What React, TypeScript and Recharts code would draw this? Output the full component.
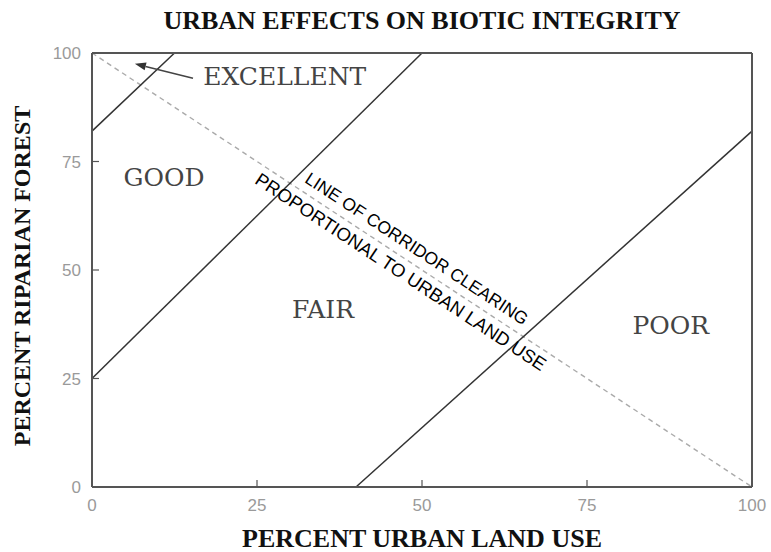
import React from 'react';
import { ComposedChart, XAxis, YAxis, ReferenceLine, Scatter } from 'recharts';

const axisTicks = [0, 25, 50, 75, 100];
const excellentBoundary = [{ x: 0, y: 82 }, { x: 12.5, y: 100 }];
const goodBoundary = [{ x: 0, y: 25 }, { x: 50, y: 100 }];
const poorBoundary = [{ x: 40, y: 0 }, { x: 100, y: 82 }];
const corridorLine = [{ x: 0, y: 100 }, { x: 100, y: 0 }];
const arrowSegment = [{ x: 15.3, y: 94.2 }, { x: 6.5, y: 97.5 }];
const zoneLabels = [
  { x: 29.2, y: 94.5, text: 'EXCELLENT' },
  { x: 10.9, y: 71.4, text: 'GOOD' },
  { x: 35, y: 40.8, text: 'FAIR' },
  { x: 87.7, y: 37.1, text: 'POOR' },
];
const corridorLabels = [
  { x: 49.2, y: 54.9, text: 'LINE OF CORRIDOR CLEARING' },
  { x: 46.8, y: 49.6, text: 'PROPORTIONAL TO URBAN LAND USE' },
];
const chartTitle = 'URBAN EFFECTS ON BIOTIC INTEGRITY';
const xTitle = 'PERCENT URBAN LAND USE';
const yTitle = 'PERCENT RIPARIAN FOREST';

const W = 771;
const H = 552;
const AXIS = '#555';
const TICKC = '#9a9a9a';
const corridorFontSize: Record<string, number> = {
  'LINE OF CORRIDOR CLEARING': 17.5,
  'PROPORTIONAL TO URBAN LAND USE': 18.5,
};

const ZoneText = (props: any) => {
  const { cx, cy, payload } = props;
  return (
    <text x={cx} y={cy} textAnchor="middle" dominantBaseline="central"
      fontFamily="DejaVu Serif" fontSize={25} fill="#444">{payload.text}</text>
  );
};

const CorridorText = (props: any) => {
  const { cx, cy, payload } = props;
  return (
    <text x={cx} y={cy} textAnchor="middle" dominantBaseline="central"
      transform={`rotate(33.3 ${cx} ${cy})`}
      fontFamily="Liberation Sans" fontSize={corridorFontSize[payload.text] || 18} fill="#000">{payload.text}</text>
  );
};

const ArrowShape = (props: any) => {
  const { x1, y1, x2, y2 } = props;
  const ang = Math.atan2(y2 - y1, x2 - x1);
  const L = 11;
  const w = 4;
  const bx = x2 - L * Math.cos(ang);
  const by = y2 - L * Math.sin(ang);
  const px = -Math.sin(ang) * w;
  const py = Math.cos(ang) * w;
  return (
    <g>
      <line x1={x1} y1={y1} x2={bx} y2={by} stroke="#444" strokeWidth={1.5} />
      <polygon points={`${x2},${y2} ${bx + px},${by + py} ${bx - px},${by - py}`} fill="#333" />
    </g>
  );
};

export default function App() {
  const tickStyle = { fill: TICKC, fontSize: 17, fontFamily: 'Liberation Sans' };
  return (
    <div style={{ position: 'absolute', left: 0, top: 0, width: W, height: H, background: '#fff' }}>
      <ComposedChart width={W} height={H} margin={{ top: 52, right: 18, bottom: 64, left: 91 }}>
        <XAxis xAxisId={0} dataKey="x" type="number" domain={[0, 100]} ticks={axisTicks}
          allowDataOverflow height={1} tickSize={-7} tickMargin={19}
          axisLine={{ stroke: AXIS, strokeWidth: 2 }} tickLine={{ stroke: AXIS, strokeWidth: 1.2 }}
          tick={tickStyle} interval={0} />
        <XAxis xAxisId="top" orientation="top" dataKey="x" type="number" domain={[0, 100]} ticks={axisTicks}
          allowDataOverflow height={1} tickSize={-7} tick={false}
          axisLine={{ stroke: AXIS, strokeWidth: 2 }} tickLine={{ stroke: AXIS, strokeWidth: 1.2 }} />
        <YAxis yAxisId={0} dataKey="y" type="number" domain={[0, 100]} ticks={axisTicks}
          allowDataOverflow width={1} tickSize={-7} tickMargin={18}
          axisLine={{ stroke: AXIS, strokeWidth: 2 }} tickLine={{ stroke: AXIS, strokeWidth: 1.2 }}
          tick={tickStyle} interval={0} />
        <YAxis yAxisId="right" orientation="right" dataKey="y" type="number" domain={[0, 100]} ticks={axisTicks}
          allowDataOverflow width={1} tickSize={-7} tick={false}
          axisLine={{ stroke: AXIS, strokeWidth: 2 }} tickLine={{ stroke: AXIS, strokeWidth: 1.2 }} />
        <ReferenceLine segment={corridorLine} stroke="#aaa" strokeWidth={1.4} strokeDasharray="5 4" ifOverflow="visible" />
        <ReferenceLine segment={excellentBoundary} stroke="#333" strokeWidth={1.5} ifOverflow="visible" />
        <ReferenceLine segment={goodBoundary} stroke="#333" strokeWidth={1.5} ifOverflow="visible" />
        <ReferenceLine segment={poorBoundary} stroke="#333" strokeWidth={1.5} ifOverflow="visible" />
        <ReferenceLine segment={arrowSegment} ifOverflow="visible" shape={ArrowShape} />
        <Scatter data={zoneLabels} shape={ZoneText} isAnimationActive={false} />
        <Scatter data={corridorLabels} shape={CorridorText} isAnimationActive={false} />
      </ComposedChart>
      <svg width={W} height={H} style={{ position: 'absolute', left: 0, top: 0, pointerEvents: 'none' }}>
        <text x={422} y={20} textAnchor="middle" dominantBaseline="central"
          fontFamily="Liberation Serif" fontWeight="bold" fontSize={26} fill="#111">{chartTitle}</text>
        <text x={422} y={538} textAnchor="middle" dominantBaseline="central"
          fontFamily="Liberation Serif" fontWeight="bold" fontSize={26} fill="#111">{xTitle}</text>
        <text x={22} y={276} textAnchor="middle" dominantBaseline="central" transform="rotate(-90 22 276)"
          fontFamily="Liberation Serif" fontWeight="bold" fontSize={24} fill="#111">{yTitle}</text>
      </svg>
    </div>
  );
}
